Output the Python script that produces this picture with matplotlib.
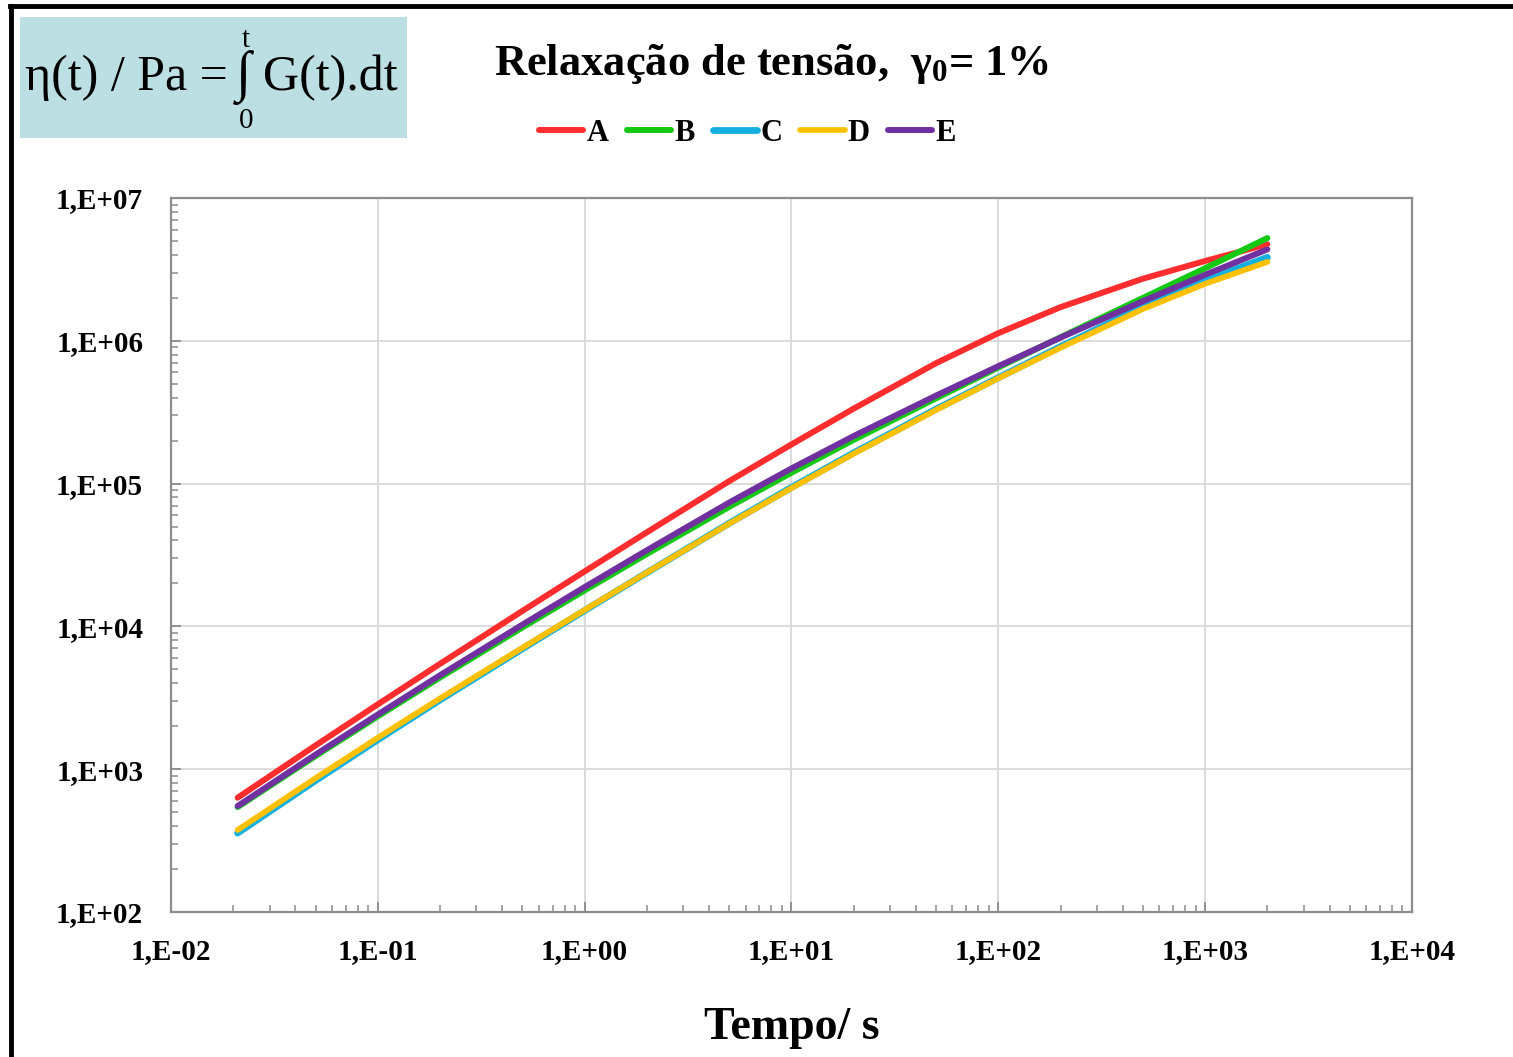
import matplotlib.pyplot as plt
import numpy as np
from matplotlib.ticker import LogLocator, FuncFormatter, NullFormatter
from matplotlib.patches import Rectangle
from matplotlib.lines import Line2D

plt.rcParams['font.family'] = ['Liberation Serif', 'DejaVu Serif']
plt.rcParams['mathtext.default'] = 'regular'

# ===== DADOS =====
tempo = [0.021, 0.05, 0.1, 0.2, 0.5, 1, 2, 5, 10, 20, 50, 100, 200, 500, 1000, 2000]
eta_A = [631, 1466, 2844, 5470, 12820, 24270, 45600, 104000, 187900, 335000,
         696600, 1.13e6, 1.72e6, 2.72e6, 3.62e6, 4.74e6]
eta_B = [543, 1236, 2344, 4385, 9817, 17860, 32140, 68710, 119100, 202300,
         395400, 650100, 1.059e6, 1.995e6, 3.22e6, 5.24e6]
eta_C = [357, 832, 1607, 3055, 6966, 12910, 23770, 52720, 93970, 164100,
         331900, 550800, 909900, 1.73e6, 2.642e6, 3.837e6]
eta_D = [375, 865, 1660, 3133, 7079, 13030, 23820, 52360, 92900, 161800,
         327300, 545800, 893300, 1.667e6, 2.506e6, 3.565e6]
eta_E = [552, 1265, 2415, 4550, 10280, 18840, 34120, 73620, 127600, 215300,
         413000, 663700, 1.052e6, 1.892e6, 2.897e6, 4.365e6]

nomes = ['A', 'B', 'C', 'D', 'E']
cores = ['#ff2d2d', '#14c814', '#14b0e0', '#ffc000', '#7030a0']
larguras = [4.3, 4.3, 4.9, 4.1, 4.3]
series = [eta_A, eta_B, eta_C, eta_D, eta_E]

fig = plt.figure(figsize=(15.13, 10.57), dpi=100)
ax = fig.add_axes([0.1130, 0.1372, 0.8202, 0.6755])

# ===== CURVAS =====
for nome, cor, lw, eta in zip(nomes, cores, larguras, series):
    ax.plot(tempo, eta, color=cor, lw=lw, label=nome,
            solid_capstyle='round', solid_joinstyle='round')

ax.set_xscale('log')
ax.set_yscale('log')
ax.set_xlim(1e-2, 1e4)
ax.set_ylim(1e2, 1e7)

# ===== TICKS =====
fmt = FuncFormatter(lambda v, p: "1,E{:+03d}".format(int(round(np.log10(v)))))
for axis in (ax.xaxis, ax.yaxis):
    axis.set_major_locator(LogLocator(base=10, numticks=20))
    axis.set_minor_locator(LogLocator(base=10, subs=np.arange(2, 10), numticks=20))
    axis.set_major_formatter(fmt)
    axis.set_minor_formatter(NullFormatter())

ax.tick_params(which='major', direction='in', length=7, width=1.3, color='#8c8c8c',
               labelsize=21)
ax.tick_params(axis='x', which='major', pad=19)
ax.tick_params(axis='y', which='major', pad=20)
ax.tick_params(which='minor', direction='in', length=5, width=1.1, color='#8c8c8c')
for lab in ax.get_xticklabels() + ax.get_yticklabels():
    lab.set_fontweight('bold')

ax.grid(which='major', color='#d9d9d9', lw=1.3)
ax.set_axisbelow(True)
for s in ax.spines.values():
    s.set_color('#8c8c8c')
    s.set_linewidth(1.6)

ax.set_xlabel('Tempo/ s', fontsize=33, fontweight='bold', labelpad=30)

# ===== TITULO & LEGENDA =====
fig.text(0.51, 0.929, 'Relaxação de tensão,  γ$_0$= 1%', fontsize=32,
         fontweight='bold', ha='center', va='baseline')
ax.legend(loc='center', bbox_to_anchor=(0.494, 0.874), bbox_transform=fig.transFigure,
          ncol=5, frameon=False, handlelength=1.45, handletextpad=0.1,
          columnspacing=0.6, prop={'size': 22, 'weight': 'bold'})

# ===== CAIXA DA FORMULA =====
fig.patches.append(Rectangle((0.0132, 0.8694), 0.2558, 0.1145, transform=fig.transFigure,
                             facecolor='#bcdfe3', edgecolor='none', zorder=0))
fig.text(0.0165, 0.915, 'η(t) / Pa =', fontsize=36, ha='left', va='baseline')
fig.text(0.1606, 0.915, '∫', fontsize=40, ha='center', va='baseline')
fig.text(0.1626, 0.956, 't', fontsize=21, ha='center', va='baseline')
fig.text(0.1626, 0.879, '0', fontsize=21, ha='center', va='baseline')
fig.text(0.263, 0.915, 'G(t).dt', fontsize=36, ha='right', va='baseline')

# ===== MOLDURA =====
fig.add_artist(Line2D([0.0066, 1.0], [0.9945, 0.9945], transform=fig.transFigure,
                      color='black', lw=3.5))
fig.add_artist(Line2D([0.0073, 0.0073], [0.0, 0.9945], transform=fig.transFigure,
                      color='black', lw=3.5))

fig.savefig('out.png', dpi=100)
